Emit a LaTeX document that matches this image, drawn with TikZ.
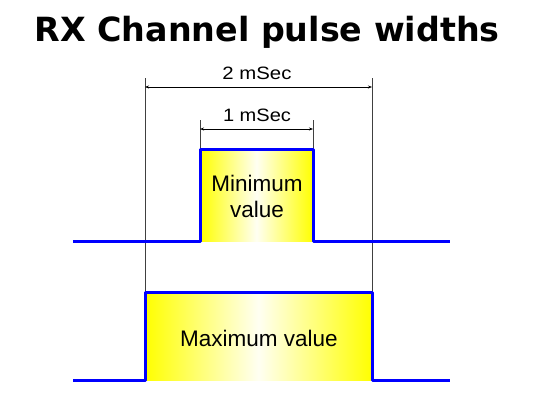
\documentclass[tikz,border=0pt]{standalone}
\usepackage{fontspec}
\setmainfont{Liberation Sans}
\newfontfamily\titlefont{DejaVu Sans}
\usetikzlibrary{arrows.meta}
\begin{document}
\begin{tikzpicture}[x=1pt,y=-1pt,
  signal/.style={draw={rgb,255:red,0;green,0;blue,255},line width=3pt,line join=round},
  pulsefill/.style={left color=yellow,right color=yellow,middle color=yellow!5},
  dimline/.style={draw=black!75,line width=0.6pt},
  dimarrow/.style={draw=black,line width=0.6pt,{Stealth[length=4pt,width=3pt]}-{Stealth[length=4pt,width=3pt]}},
  lbl/.style={inner sep=0pt},
  pulselbl/.style={font=\fontsize{22.5}{26}\selectfont,align=center,inner sep=0pt}]
\path[use as bounding box] (0,0) rectangle (533,400);
% title
\node (title) at (267,32) {\resizebox{465pt}{!}{\titlefont\bfseries RX Channel pulse widths}};
% coordinates
\coordinate (oL) at (145,78);
\coordinate (oR) at (372,78);
\coordinate (oLb) at (145,292);
\coordinate (oRb) at (372,292);
\coordinate (iL) at (200,120);
\coordinate (iR) at (313,120);
\coordinate (iLb) at (200,149);
\coordinate (iRb) at (313,149);
\coordinate (a2L) at (145,87);
\coordinate (a2R) at (372,87);
\coordinate (a1L) at (200,129);
\coordinate (a1R) at (313,129);
% pulse fills
\fill[pulsefill] (200,149) rectangle (313,241);
\fill[pulsefill] (145,292) rectangle (372,380);
% dimension lines
\draw[dimline] (oL) -- (oLb);
\draw[dimline] (oR) -- (oRb);
\draw[dimline] (iL) -- (iLb);
\draw[dimline] (iR) -- (iRb);
\draw[dimarrow] (a2L) -- (a2R);
\draw[dimarrow] (a1L) -- (a1R);
\node[lbl] (l2) at (257,73) {\resizebox{69pt}{12.5pt}{2 mSec}};
\node[lbl] (l1) at (257,115.5) {\resizebox{68pt}{12.5pt}{1 mSec}};
% signals
\draw[signal] (73,241) -- (200,241) -- (200,149) -- (313,149) -- (313,241) -- (450,241);
\draw[signal] (73,380) -- (145,380) -- (145,292) -- (372,292) -- (372,380) -- (450,380);
\node[pulselbl] (minv) at (257,196) {Minimum\\value};
\node[pulselbl] (maxv) at (259,338) {Maximum value};
\end{tikzpicture}
\end{document}
